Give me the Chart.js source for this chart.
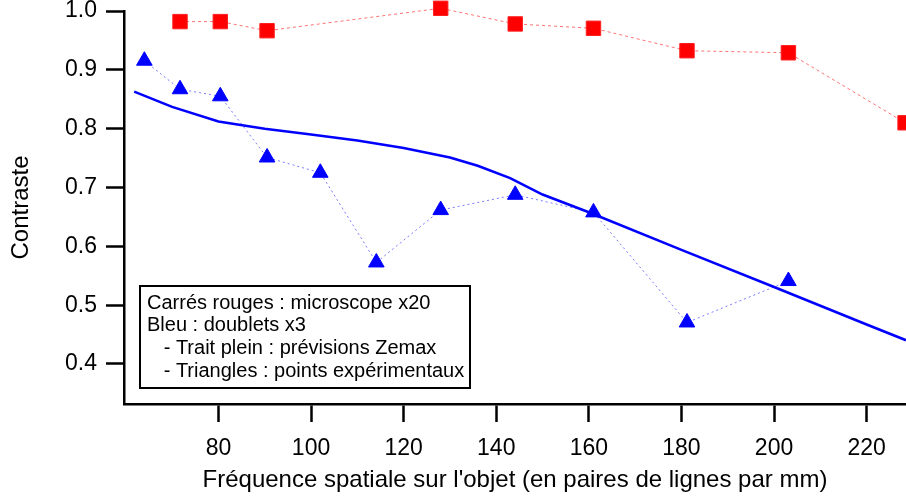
<!DOCTYPE html>
<html>
<head>
<meta charset="utf-8">
<script src="https://cdn.jsdelivr.net/npm/chart.js@4"></script>
<style>
  html, body { margin: 0; padding: 0; background: #fff; }
  #wrap { width: 906px; height: 497px; }
</style>
</head>
<body>
<div id="wrap"><canvas id="contraste-chart" width="906" height="497"></canvas></div>
<script>
// microscope x20 (carrés rouges)
const freqRouge = [71.7, 80.4, 90.5, 128.0, 144.1, 161.0, 181.2, 203.1, 228.3];
const contrasteRouge = [0.982, 0.982, 0.9665, 1.0046, 0.978, 0.9706, 0.9325, 0.929, 0.810];

// doublets x3, points expérimentaux (triangles bleus)
const freqBleu = [64.0, 71.7, 80.4, 90.5, 102.0, 114.1, 128.0, 144.1, 161.0, 181.2, 203.1];
const contrasteBleu = [0.9155, 0.867, 0.855, 0.751, 0.725, 0.5726, 0.6616, 0.6876, 0.6577, 0.4706, 0.541];

// doublets x3, prévisions Zemax (trait plein)
const freqZemax = [61.8, 70, 80, 90, 100, 110, 120, 130, 136, 143, 150, 160, 180, 200, 220, 228.5];
const contrasteZemax = [0.863, 0.837, 0.812, 0.800, 0.790, 0.780, 0.767, 0.751, 0.737, 0.716, 0.688, 0.658, 0.594, 0.531, 0.467, 0.4405];

const xTicks = [80, 100, 120, 140, 160, 180, 200, 220];
const yTicks = [0.4, 0.5, 0.6, 0.7, 0.8, 0.9, 1.0];

const legendeLignes = [
    'Carrés rouges : microscope x20',
    'Bleu : doublets x3',
    '   - Trait plein : prévisions Zemax',
    '   - Triangles : points expérimentaux'
];

const FONT = '"Liberation Sans", Arial, sans-serif';

const toPoints = (xs, ys) => xs.map((x, i) => ({x: x, y: ys[i]}));

// cadre de texte en bas à gauche du graphe
const boiteLegende = {
    id: 'boiteLegende',
    afterDraw(chart) {
        const {ctx, chartArea} = chart;
        const x = chartArea.left + 16;
        const y = chartArea.bottom - 118;
        const w = 330, h = 102;
        ctx.save();
        ctx.fillStyle = '#fff';
        ctx.fillRect(x, y, w, h);
        ctx.lineWidth = 2;
        ctx.strokeStyle = '#000';
        ctx.strokeRect(x, y, w, h);
        ctx.fillStyle = '#000';
        ctx.font = '20px ' + FONT;
        ctx.textBaseline = 'middle';
        legendeLignes.forEach((t, i) => ctx.fillText(t, x + 7, y + 17 + i * 22.7));
        ctx.restore();
    }
};

const axe = {
    grid: {drawOnChartArea: false, drawTicks: true, tickLength: 18, tickWidth: 2.5, tickColor: '#000'},
    border: {display: true, color: '#000', width: 2.5}
};

const ctx = document.getElementById('contraste-chart').getContext('2d');

const chart = new Chart(ctx, {
    type: 'line',
    data: {
        datasets: [
            {
                data: toPoints(freqRouge, contrasteRouge),
                borderColor: 'rgba(255, 90, 90, 0.85)',
                borderWidth: 1,
                borderDash: [3, 3],
                pointStyle: 'rect',
                pointRadius: 10.2,
                pointBackgroundColor: '#ff0000',
                pointBorderColor: '#ff2020',
                pointBorderWidth: 1,
                clip: false
            },
            {
                data: toPoints(freqZemax, contrasteZemax),
                borderColor: '#0000ff',
                borderWidth: 2.6,
                pointRadius: 0,
                clip: false
            },
            {
                data: toPoints(freqBleu, contrasteBleu),
                borderColor: 'rgba(90, 90, 255, 0.8)',
                borderWidth: 1,
                borderDash: [2, 3],
                pointStyle: 'triangle',
                pointRadius: 9,
                pointBackgroundColor: '#0000ff',
                pointBorderColor: '#0000ff',
                pointBorderWidth: 1,
                clip: false
            }
        ]
    },
    options: {
        responsive: false,
        animation: false,
        layout: {autoPadding: false, padding: {top: 11, right: 0, bottom: 0, left: 0}},
        plugins: {
            legend: {display: false},
            tooltip: {enabled: false}
        },
        scales: {
            x: {
                ...axe,
                type: 'linear',
                min: 59.6,
                max: 228.5,
                afterBuildTicks: (scale) => { scale.ticks = xTicks.map(v => ({value: v})); },
                afterFit: (scale) => { scale.height = 93; scale.paddingLeft = 0; scale.paddingRight = 0; },
                ticks: {
                    color: '#000',
                    font: {family: FONT, size: 23},
                    padding: 13,
                    maxRotation: 0,
                    autoSkip: false
                },
                title: {
                    display: true,
                    text: "Fréquence spatiale sur l'objet (en paires de lignes par mm)",
                    color: '#000',
                    font: {family: FONT, size: 24},
                    padding: {top: 0, bottom: 2}
                }
            },
            y: {
                ...axe,
                type: 'linear',
                min: 0.332,
                max: 1.0,
                afterBuildTicks: (scale) => { scale.ticks = yTicks.map(v => ({value: v})); },
                afterFit: (scale) => { scale.width = 124; scale.paddingTop = 0; scale.paddingBottom = 0; },
                ticks: {
                    color: '#000',
                    font: {family: FONT, size: 23},
                    padding: 9,
                    callback: (v) => v.toFixed(1)
                },
                title: {
                    display: true,
                    text: 'Contraste',
                    color: '#000',
                    font: {family: FONT, size: 24},
                    padding: {top: 7, bottom: 0}
                }
            }
        }
    },
    plugins: [boiteLegende]
});
</script>
</body>
</html>
